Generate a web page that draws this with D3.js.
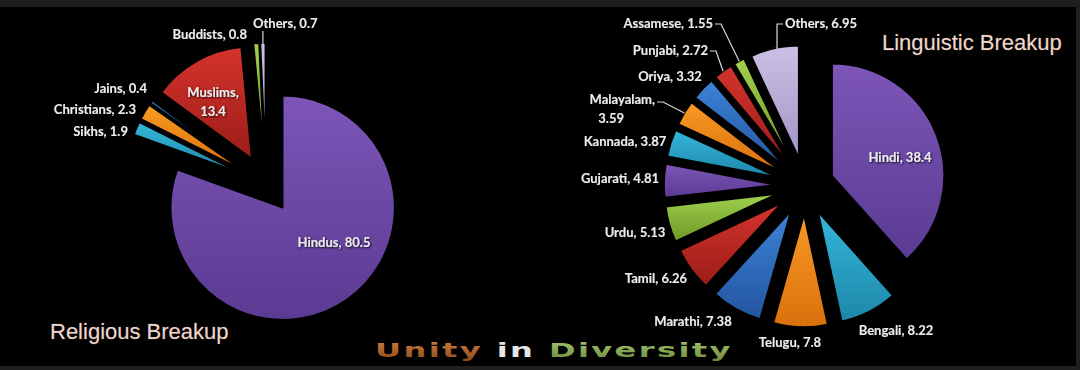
<!DOCTYPE html>
<html><head><meta charset="utf-8">
<script src="https://cdn.jsdelivr.net/npm/d3@7"></script>
<style>
html,body{margin:0;padding:0;background:#1f1f1f;}
svg{display:block;}
</style></head>
<body>
<svg id="c" width="1080" height="370"></svg>
<script>
// ---- data ----
const relCats = ["Hindus","Sikhs","Christians","Jains","Muslims","Buddists","Others"];
const relVals = [80.5, 1.9, 2.3, 0.4, 13.4, 0.8, 0.7];
const langCats = ["Hindi","Bengali","Telugu","Marathi","Tamil","Urdu","Gujarati","Kannada","Malayalam","Oriya","Punjabi","Assamese","Others"];
const langVals = [38.4, 8.22, 7.8, 7.38, 6.26, 5.13, 4.81, 3.87, 3.59, 3.32, 2.72, 1.55, 6.95];
const titles = ["Religious Breakup", "Linguistic Breakup"];
const banner = ["Unity", "in", "Diversity"];

// ---- style ----
const palette = {
  purple: ["#7d56b8", "#5a3a92"],
  cyan:   ["#35b6dc", "#1d87a8"],
  orange: ["#f99a24", "#d9700c"],
  blue:   ["#3d83d8", "#23559f"],
  red:    ["#d4342c", "#9c1c18"],
  green:  ["#a2d04c", "#6c9a28"],
  lav:    ["#cbc0e4", "#a395c8"]
};
const relColors = ["purple","cyan","orange","blue","red","green","lav"];
const langColors = ["purple","cyan","orange","blue","red","green","purple","cyan","orange","blue","red","green","lav"];

const R = 112, EXPLODE = 29;

// label layout, relative to pie centre (dx, dy of text centre line), anchor
const relLabelLayout = {
  Hindus:    {dx: 68,  dy: 59,   a: "middle"},
  Sikhs:     {dx: -138,dy: -52,  a: "end"},
  Christians:{dx: -130,dy: -74,  a: "end"},
  Jains:     {dx: -119,dy: -95,  a: "end"},
  Muslims:   {dx: -53, dy: -91,  a: "middle", wrap: true},
  Buddists:  {dx: -19, dy: -149, a: "end"},
  Others:    {dx: -13, dy: -160, a: "start", leader: "top"}
};
const langLabelLayout = {
  Hindi:    {dx: 95,  dy: -28, a: "middle"},
  Bengali:  {dx: 91,  dy: 145, a: "middle"},
  Telugu:   {dx: -15, dy: 157, a: "middle"},
  Marathi:  {dx: -112,dy: 136, a: "middle"},
  Tamil:    {dx: -149,dy: 93,  a: "middle"},
  Urdu:     {dx: -170,dy: 47,  a: "middle"},
  Gujarati: {dx: -185,dy: -7,  a: "middle"},
  Kannada:  {dx: -180,dy: -44, a: "middle"},
  Malayalam:{dx: -150,dy: -86, a: "end", wrap: true, leader: "right"},
  Oriya:    {dx: -135,dy: -109,a: "middle"},
  Punjabi:  {dx: -97, dy: -135,a: "end", leader: "right"},
  Assamese: {dx: -92, dy: -162,a: "end", leader: "right"},
  Others:   {dx: -20, dy: -162,a: "start", leader: "left"}
};

const svg = d3.select("#c");
svg.append("rect").attr("x",0).attr("y",7).attr("width",1076).attr("height",359).attr("fill","#000");

const defs = svg.append("defs");
Object.entries(palette).forEach(([k,[c1,c2]]) => {
  const g = defs.append("linearGradient").attr("id","g-"+k).attr("x1",0).attr("y1",0).attr("x2",0).attr("y2",1);
  g.append("stop").attr("offset","0%").attr("stop-color",c1);
  g.append("stop").attr("offset","100%").attr("stop-color",c2);
});
const sh = defs.append("filter").attr("id","ts").attr("x","-10%").attr("y","-30%").attr("width","120%").attr("height","160%");
sh.append("feDropShadow").attr("dx",1).attr("dy",1).attr("stdDeviation",0.8).attr("flood-color","#000").attr("flood-opacity",0.9);

function drawPie(cx, cy, cats, vals, colors, layout) {
  const pie = d3.pie().sort(null).value(d => d.v).startAngle(0).endAngle(2*Math.PI);
  const arcs = pie(cats.map((c,i) => ({c, v: vals[i], col: colors[i]})));
  const arc = d3.arc().innerRadius(0).outerRadius(R);
  const g = svg.append("g").attr("transform", `translate(${cx},${cy})`);
  const dir = a => [Math.sin(a), -Math.cos(a)];
  arcs.forEach(d => {
    const m = (d.startAngle + d.endAngle)/2;
    const [ux, uy] = dir(m);
    d.ox = ux*EXPLODE; d.oy = uy*EXPLODE;
    d.outer = [d.ox + ux*R, d.oy + uy*R];
  });
  g.selectAll("path.slice").data(arcs).join("path")
    .attr("class","slice")
    .attr("transform", d => `translate(${d.ox},${d.oy})`)
    .attr("d", arc)
    .attr("fill", d => `url(#g-${d.data.col})`)
    .attr("stroke","#000").attr("stroke-width",1.6).attr("stroke-linejoin","round");

  const lab = g.append("g").attr("font-family","Lato, 'Open Sans', sans-serif")
    .attr("font-weight","bold").attr("font-size",13).attr("fill","#ececec")
    .attr("filter","url(#ts)");
  arcs.forEach(d => {
    const L = layout[d.data.c];
    const txt = `${d.data.c}, ${d.data.v}`;
    const t = lab.append("text").attr("text-anchor", L.a);
    if (L.wrap) {
      t.append("tspan").attr("x", L.dx).attr("y", L.dy + 4).text(`${d.data.c},`);
      const off = L.a === "end" ? -31 : 0;
      t.append("tspan").attr("x", L.dx + off).attr("y", L.dy + 23).text(`${d.data.v}`);
    } else {
      t.attr("x", L.dx).attr("y", L.dy + 4).text(txt);
    }
    if (L.leader) {
      const [ex, ey] = d.outer;
      let pts;
      if (L.leader === "top") {
        pts = [[ex, L.dy + 7], [ex, ey + 3]];
      } else if (L.leader === "right") {
        const sx = L.dx + 2, ly = L.dy + (L.wrap ? 2 : 0);
        pts = [[sx, ly], [sx + 6, ly], [ex, ey]];
      } else {
        const sx = L.dx - 2;
        pts = [[sx, L.dy], [sx - 6, L.dy], [sx - 6, ey + 1]];
      }
      g.append("path").attr("d", d3.line()(pts)).attr("fill","none")
        .attr("stroke","#d8d8d8").attr("stroke-width",1.2);
    }
  });
}

drawPie(266, 184, relCats, relVals, relColors, relLabelLayout);
drawPie(805, 186, langCats, langVals, langColors, langLabelLayout);

// titles
const tg = svg.append("g").attr("font-family","'Liberation Sans', Arial, sans-serif")
  .attr("font-size",22).attr("fill","#eed6ce").attr("stroke","#5a4038").attr("stroke-width",0.6)
  .attr("paint-order","stroke");
tg.append("text").attr("x",50).attr("y",339).text(titles[0]);
tg.append("text").attr("x",882).attr("y",50).text(titles[1]);

// banner
const bcol = ["url(#g-unity)","#e6e6e6","url(#g-div)"];
const gu = defs.append("linearGradient").attr("id","g-unity").attr("x1",0).attr("y1",0).attr("x2",0).attr("y2",1);
gu.append("stop").attr("offset","0%").attr("stop-color","#d08040");
gu.append("stop").attr("offset","100%").attr("stop-color","#8a4a1c");
const gd = defs.append("linearGradient").attr("id","g-div").attr("x1",0).attr("y1",0).attr("x2",0).attr("y2",1);
gd.append("stop").attr("offset","0%").attr("stop-color","#a8c870");
gd.append("stop").attr("offset","100%").attr("stop-color","#6c8a3c");
const bt = svg.append("text").attr("font-family","'DejaVu Sans', sans-serif").attr("font-weight","bold")
  .attr("font-size",20).attr("letter-spacing",1.5).attr("x",0).attr("y",0);
banner.forEach((w,i) => {
  bt.append("tspan").attr("fill", bcol[i]).text((i ? " " : "") + w);
});
const bw = bt.node().getComputedTextLength();
const targetW = 358;
bt.attr("transform", `translate(375,357) scale(${targetW/bw},1)`);
</script>
</body></html>
